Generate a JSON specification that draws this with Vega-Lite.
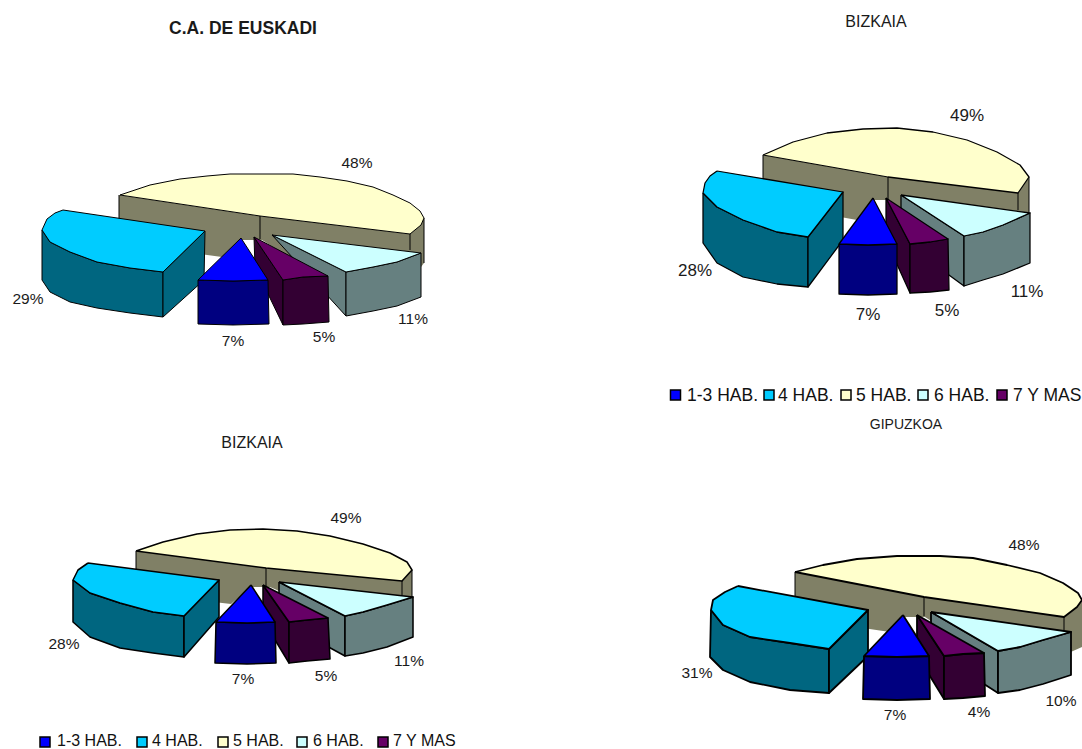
{"$schema":"https://vega.github.io/schema/vega-lite/v6.json","width":1082,"height":749,"padding":0,"autosize":{"type":"none"},"background":"white","view":{"stroke":null},
"datasets":{
"walls":[
{"panel":"CAE","x":119,"y":195},{"panel":"CAE","x":260,"y":216},{"panel":"CAE","x":410,"y":234},{"panel":"CAE","x":424,"y":218},{"panel":"CAE","x":424,"y":263},{"panel":"CAE","x":421,"y":267},{"panel":"CAE","x":410,"y":280},{"panel":"CAE","x":290,"y":258},{"panel":"CAE","x":262,"y":240},{"panel":"CAE","x":241,"y":240},{"panel":"CAE","x":222,"y":257},{"panel":"CAE","x":119,"y":243},
{"panel":"BIZ1","x":763,"y":155},{"panel":"BIZ1","x":888,"y":177},{"panel":"BIZ1","x":1018,"y":193},{"panel":"BIZ1","x":1029,"y":177},{"panel":"BIZ1","x":1029,"y":212},{"panel":"BIZ1","x":1018,"y":235},{"panel":"BIZ1","x":920,"y":225},{"panel":"BIZ1","x":890,"y":200},{"panel":"BIZ1","x":873,"y":200},{"panel":"BIZ1","x":857,"y":220},{"panel":"BIZ1","x":763,"y":203},
{"panel":"BIZ2","x":136,"y":551},{"panel":"BIZ2","x":266,"y":568},{"panel":"BIZ2","x":402,"y":581},{"panel":"BIZ2","x":412,"y":570},{"panel":"BIZ2","x":412,"y":597},{"panel":"BIZ2","x":402,"y":615},{"panel":"BIZ2","x":300,"y":600},{"panel":"BIZ2","x":270,"y":587},{"panel":"BIZ2","x":251,"y":587},{"panel":"BIZ2","x":231,"y":604},{"panel":"BIZ2","x":136,"y":593},
{"panel":"GIP","x":795,"y":572},{"panel":"GIP","x":924,"y":597},{"panel":"GIP","x":1064,"y":617},{"panel":"GIP","x":1082,"y":600},{"panel":"GIP","x":1082,"y":647},{"panel":"GIP","x":1064,"y":655},{"panel":"GIP","x":960,"y":640},{"panel":"GIP","x":925,"y":617},{"panel":"GIP","x":903,"y":617},{"panel":"GIP","x":890,"y":632},{"panel":"GIP","x":795,"y":618}
],
"edges":[
{"panel":"CAE","edge":"left","x":119,"y":243},{"panel":"CAE","edge":"left","x":119,"y":195},
{"panel":"CAE","edge":"seam","x":260,"y":216},{"panel":"CAE","edge":"seam","x":260,"y":239},
{"panel":"CAE","edge":"right","x":410,"y":234},{"panel":"CAE","edge":"right","x":410,"y":250},
{"panel":"CAE","edge":"rim","x":424,"y":218},{"panel":"CAE","edge":"rim","x":424,"y":263},
{"panel":"BIZ1","edge":"left","x":763,"y":203},{"panel":"BIZ1","edge":"left","x":763,"y":155},
{"panel":"BIZ1","edge":"seam","x":888,"y":177},{"panel":"BIZ1","edge":"seam","x":888,"y":199},
{"panel":"BIZ1","edge":"right","x":1018,"y":193},{"panel":"BIZ1","edge":"right","x":1018,"y":210},
{"panel":"BIZ1","edge":"rim","x":1029,"y":177},{"panel":"BIZ1","edge":"rim","x":1029,"y":212},
{"panel":"BIZ2","edge":"left","x":136,"y":593},{"panel":"BIZ2","edge":"left","x":136,"y":551},
{"panel":"BIZ2","edge":"seam","x":266,"y":568},{"panel":"BIZ2","edge":"seam","x":266,"y":586},
{"panel":"BIZ2","edge":"right","x":402,"y":581},{"panel":"BIZ2","edge":"right","x":402,"y":595},
{"panel":"BIZ2","edge":"rim","x":412,"y":570},{"panel":"BIZ2","edge":"rim","x":412,"y":597},
{"panel":"GIP","edge":"left","x":795,"y":618},{"panel":"GIP","edge":"left","x":795,"y":572},
{"panel":"GIP","edge":"seam","x":924,"y":597},{"panel":"GIP","edge":"seam","x":924,"y":616},
{"panel":"GIP","edge":"right","x":1064,"y":617},{"panel":"GIP","edge":"right","x":1064,"y":630}
],
"faces":[
{"panel":"CAE","face":"5 top","x":120,"y":195},{"panel":"CAE","face":"5 top","x":150,"y":185},{"panel":"CAE","face":"5 top","x":180,"y":179},{"panel":"CAE","face":"5 top","x":207,"y":176},{"panel":"CAE","face":"5 top","x":230,"y":174},{"panel":"CAE","face":"5 top","x":263,"y":174},{"panel":"CAE","face":"5 top","x":293,"y":174},{"panel":"CAE","face":"5 top","x":320,"y":177},{"panel":"CAE","face":"5 top","x":347,"y":181},{"panel":"CAE","face":"5 top","x":373,"y":187},{"panel":"CAE","face":"5 top","x":393,"y":195},{"panel":"CAE","face":"5 top","x":410,"y":203},{"panel":"CAE","face":"5 top","x":420,"y":211},{"panel":"CAE","face":"5 top","x":424,"y":218},{"panel":"CAE","face":"5 top","x":421,"y":225},{"panel":"CAE","face":"5 top","x":410,"y":234},{"panel":"CAE","face":"5 top","x":260,"y":216},{"panel":"CAE","face":"5 top","x":120,"y":195},
{"panel":"CAE","face":"4 side","x":42,"y":230},{"panel":"CAE","face":"4 side","x":50,"y":242},{"panel":"CAE","face":"4 side","x":70,"y":252},{"panel":"CAE","face":"4 side","x":97,"y":262},{"panel":"CAE","face":"4 side","x":130,"y":268},{"panel":"CAE","face":"4 side","x":163,"y":272},{"panel":"CAE","face":"4 side","x":163,"y":317},{"panel":"CAE","face":"4 side","x":130,"y":313},{"panel":"CAE","face":"4 side","x":97,"y":308},{"panel":"CAE","face":"4 side","x":70,"y":302},{"panel":"CAE","face":"4 side","x":50,"y":292},{"panel":"CAE","face":"4 side","x":42,"y":280},{"panel":"CAE","face":"4 side","x":42,"y":230},
{"panel":"CAE","face":"4 cut","x":163,"y":272},{"panel":"CAE","face":"4 cut","x":205,"y":231},{"panel":"CAE","face":"4 cut","x":204,"y":280},{"panel":"CAE","face":"4 cut","x":163,"y":317},{"panel":"CAE","face":"4 cut","x":163,"y":272},
{"panel":"CAE","face":"4 top","x":63,"y":210},{"panel":"CAE","face":"4 top","x":205,"y":231},{"panel":"CAE","face":"4 top","x":163,"y":272},{"panel":"CAE","face":"4 top","x":130,"y":268},{"panel":"CAE","face":"4 top","x":97,"y":262},{"panel":"CAE","face":"4 top","x":70,"y":252},{"panel":"CAE","face":"4 top","x":50,"y":242},{"panel":"CAE","face":"4 top","x":42,"y":230},{"panel":"CAE","face":"4 top","x":47,"y":219},{"panel":"CAE","face":"4 top","x":55,"y":213},{"panel":"CAE","face":"4 top","x":63,"y":210},
{"panel":"CAE","face":"6 cut","x":272,"y":235},{"panel":"CAE","face":"6 cut","x":346,"y":272},{"panel":"CAE","face":"6 cut","x":346,"y":316},{"panel":"CAE","face":"6 cut","x":272,"y":235},
{"panel":"CAE","face":"6 side","x":346,"y":272},{"panel":"CAE","face":"6 side","x":373,"y":267},{"panel":"CAE","face":"6 side","x":397,"y":262},{"panel":"CAE","face":"6 side","x":421,"y":253},{"panel":"CAE","face":"6 side","x":421,"y":297},{"panel":"CAE","face":"6 side","x":397,"y":306},{"panel":"CAE","face":"6 side","x":373,"y":311},{"panel":"CAE","face":"6 side","x":346,"y":316},{"panel":"CAE","face":"6 side","x":346,"y":272},
{"panel":"CAE","face":"6 top","x":272,"y":235},{"panel":"CAE","face":"6 top","x":421,"y":253},{"panel":"CAE","face":"6 top","x":397,"y":262},{"panel":"CAE","face":"6 top","x":373,"y":267},{"panel":"CAE","face":"6 top","x":346,"y":272},{"panel":"CAE","face":"6 top","x":272,"y":235},
{"panel":"CAE","face":"7 cut","x":254,"y":237},{"panel":"CAE","face":"7 cut","x":283,"y":280},{"panel":"CAE","face":"7 cut","x":283,"y":325},{"panel":"CAE","face":"7 cut","x":255,"y":267},{"panel":"CAE","face":"7 cut","x":254,"y":237},
{"panel":"CAE","face":"7 side","x":283,"y":280},{"panel":"CAE","face":"7 side","x":303,"y":277},{"panel":"CAE","face":"7 side","x":328,"y":276},{"panel":"CAE","face":"7 side","x":329,"y":322},{"panel":"CAE","face":"7 side","x":303,"y":324},{"panel":"CAE","face":"7 side","x":283,"y":325},{"panel":"CAE","face":"7 side","x":283,"y":280},
{"panel":"CAE","face":"7 top","x":254,"y":237},{"panel":"CAE","face":"7 top","x":328,"y":276},{"panel":"CAE","face":"7 top","x":303,"y":277},{"panel":"CAE","face":"7 top","x":283,"y":280},{"panel":"CAE","face":"7 top","x":254,"y":237},
{"panel":"CAE","face":"1-3 side","x":198,"y":280},{"panel":"CAE","face":"1-3 side","x":233,"y":281},{"panel":"CAE","face":"1-3 side","x":268,"y":280},{"panel":"CAE","face":"1-3 side","x":269,"y":324},{"panel":"CAE","face":"1-3 side","x":233,"y":325},{"panel":"CAE","face":"1-3 side","x":198,"y":324},{"panel":"CAE","face":"1-3 side","x":198,"y":280},
{"panel":"CAE","face":"1-3 top","x":241,"y":238},{"panel":"CAE","face":"1-3 top","x":268,"y":280},{"panel":"CAE","face":"1-3 top","x":233,"y":281},{"panel":"CAE","face":"1-3 top","x":198,"y":280},{"panel":"CAE","face":"1-3 top","x":241,"y":238},

{"panel":"BIZ1","face":"5 top","x":763,"y":155},{"panel":"BIZ1","face":"5 top","x":793,"y":142},{"panel":"BIZ1","face":"5 top","x":827,"y":133},{"panel":"BIZ1","face":"5 top","x":863,"y":129},{"panel":"BIZ1","face":"5 top","x":897,"y":128},{"panel":"BIZ1","face":"5 top","x":933,"y":132},{"panel":"BIZ1","face":"5 top","x":967,"y":140},{"panel":"BIZ1","face":"5 top","x":997,"y":152},{"panel":"BIZ1","face":"5 top","x":1020,"y":165},{"panel":"BIZ1","face":"5 top","x":1029,"y":177},{"panel":"BIZ1","face":"5 top","x":1018,"y":193},{"panel":"BIZ1","face":"5 top","x":888,"y":177},{"panel":"BIZ1","face":"5 top","x":763,"y":155},
{"panel":"BIZ1","face":"4 side","x":703,"y":193},{"panel":"BIZ1","face":"4 side","x":717,"y":207},{"panel":"BIZ1","face":"4 side","x":743,"y":220},{"panel":"BIZ1","face":"4 side","x":777,"y":232},{"panel":"BIZ1","face":"4 side","x":808,"y":237},{"panel":"BIZ1","face":"4 side","x":808,"y":287},{"panel":"BIZ1","face":"4 side","x":777,"y":284},{"panel":"BIZ1","face":"4 side","x":743,"y":277},{"panel":"BIZ1","face":"4 side","x":717,"y":263},{"panel":"BIZ1","face":"4 side","x":703,"y":243},{"panel":"BIZ1","face":"4 side","x":703,"y":193},
{"panel":"BIZ1","face":"4 cut","x":808,"y":237},{"panel":"BIZ1","face":"4 cut","x":843,"y":192},{"panel":"BIZ1","face":"4 cut","x":843,"y":240},{"panel":"BIZ1","face":"4 cut","x":808,"y":287},{"panel":"BIZ1","face":"4 cut","x":808,"y":237},
{"panel":"BIZ1","face":"4 top","x":717,"y":171},{"panel":"BIZ1","face":"4 top","x":843,"y":192},{"panel":"BIZ1","face":"4 top","x":808,"y":237},{"panel":"BIZ1","face":"4 top","x":777,"y":232},{"panel":"BIZ1","face":"4 top","x":743,"y":220},{"panel":"BIZ1","face":"4 top","x":717,"y":207},{"panel":"BIZ1","face":"4 top","x":703,"y":193},{"panel":"BIZ1","face":"4 top","x":705,"y":183},{"panel":"BIZ1","face":"4 top","x":710,"y":176},{"panel":"BIZ1","face":"4 top","x":717,"y":171},
{"panel":"BIZ1","face":"6 cut","x":901,"y":195},{"panel":"BIZ1","face":"6 cut","x":964,"y":236},{"panel":"BIZ1","face":"6 cut","x":964,"y":286},{"panel":"BIZ1","face":"6 cut","x":901,"y":240},{"panel":"BIZ1","face":"6 cut","x":901,"y":195},
{"panel":"BIZ1","face":"6 side","x":964,"y":236},{"panel":"BIZ1","face":"6 side","x":983,"y":232},{"panel":"BIZ1","face":"6 side","x":1003,"y":225},{"panel":"BIZ1","face":"6 side","x":1030,"y":213},{"panel":"BIZ1","face":"6 side","x":1030,"y":263},{"panel":"BIZ1","face":"6 side","x":1003,"y":274},{"panel":"BIZ1","face":"6 side","x":983,"y":280},{"panel":"BIZ1","face":"6 side","x":964,"y":286},{"panel":"BIZ1","face":"6 side","x":964,"y":236},
{"panel":"BIZ1","face":"6 top","x":901,"y":195},{"panel":"BIZ1","face":"6 top","x":1030,"y":213},{"panel":"BIZ1","face":"6 top","x":1003,"y":225},{"panel":"BIZ1","face":"6 top","x":983,"y":232},{"panel":"BIZ1","face":"6 top","x":964,"y":236},{"panel":"BIZ1","face":"6 top","x":901,"y":195},
{"panel":"BIZ1","face":"7 cut","x":886,"y":198},{"panel":"BIZ1","face":"7 cut","x":910,"y":244},{"panel":"BIZ1","face":"7 cut","x":910,"y":293},{"panel":"BIZ1","face":"7 cut","x":886,"y":240},{"panel":"BIZ1","face":"7 cut","x":886,"y":198},
{"panel":"BIZ1","face":"7 side","x":910,"y":244},{"panel":"BIZ1","face":"7 side","x":930,"y":242},{"panel":"BIZ1","face":"7 side","x":948,"y":239},{"panel":"BIZ1","face":"7 side","x":949,"y":290},{"panel":"BIZ1","face":"7 side","x":930,"y":292},{"panel":"BIZ1","face":"7 side","x":910,"y":293},{"panel":"BIZ1","face":"7 side","x":910,"y":244},
{"panel":"BIZ1","face":"7 top","x":886,"y":198},{"panel":"BIZ1","face":"7 top","x":948,"y":239},{"panel":"BIZ1","face":"7 top","x":930,"y":242},{"panel":"BIZ1","face":"7 top","x":910,"y":244},{"panel":"BIZ1","face":"7 top","x":886,"y":198},
{"panel":"BIZ1","face":"1-3 side","x":839,"y":244},{"panel":"BIZ1","face":"1-3 side","x":868,"y":245},{"panel":"BIZ1","face":"1-3 side","x":897,"y":244},{"panel":"BIZ1","face":"1-3 side","x":897,"y":294},{"panel":"BIZ1","face":"1-3 side","x":868,"y":295},{"panel":"BIZ1","face":"1-3 side","x":839,"y":294},{"panel":"BIZ1","face":"1-3 side","x":839,"y":244},
{"panel":"BIZ1","face":"1-3 top","x":873,"y":198},{"panel":"BIZ1","face":"1-3 top","x":897,"y":244},{"panel":"BIZ1","face":"1-3 top","x":868,"y":245},{"panel":"BIZ1","face":"1-3 top","x":839,"y":244},{"panel":"BIZ1","face":"1-3 top","x":873,"y":198},

{"panel":"BIZ2","face":"5 top","x":136,"y":551},{"panel":"BIZ2","face":"5 top","x":163,"y":542},{"panel":"BIZ2","face":"5 top","x":197,"y":534},{"panel":"BIZ2","face":"5 top","x":230,"y":530},{"panel":"BIZ2","face":"5 top","x":263,"y":529},{"panel":"BIZ2","face":"5 top","x":297,"y":531},{"panel":"BIZ2","face":"5 top","x":330,"y":536},{"panel":"BIZ2","face":"5 top","x":363,"y":544},{"panel":"BIZ2","face":"5 top","x":390,"y":553},{"panel":"BIZ2","face":"5 top","x":407,"y":562},{"panel":"BIZ2","face":"5 top","x":412,"y":570},{"panel":"BIZ2","face":"5 top","x":402,"y":581},{"panel":"BIZ2","face":"5 top","x":266,"y":568},{"panel":"BIZ2","face":"5 top","x":136,"y":551},
{"panel":"BIZ2","face":"4 side","x":73,"y":580},{"panel":"BIZ2","face":"4 side","x":90,"y":593},{"panel":"BIZ2","face":"4 side","x":120,"y":603},{"panel":"BIZ2","face":"4 side","x":153,"y":612},{"panel":"BIZ2","face":"4 side","x":184,"y":616},{"panel":"BIZ2","face":"4 side","x":184,"y":657},{"panel":"BIZ2","face":"4 side","x":153,"y":653},{"panel":"BIZ2","face":"4 side","x":120,"y":648},{"panel":"BIZ2","face":"4 side","x":90,"y":637},{"panel":"BIZ2","face":"4 side","x":73,"y":622},{"panel":"BIZ2","face":"4 side","x":73,"y":580},
{"panel":"BIZ2","face":"4 cut","x":184,"y":616},{"panel":"BIZ2","face":"4 cut","x":219,"y":580},{"panel":"BIZ2","face":"4 cut","x":219,"y":617},{"panel":"BIZ2","face":"4 cut","x":184,"y":657},{"panel":"BIZ2","face":"4 cut","x":184,"y":616},
{"panel":"BIZ2","face":"4 top","x":88,"y":563},{"panel":"BIZ2","face":"4 top","x":219,"y":580},{"panel":"BIZ2","face":"4 top","x":184,"y":616},{"panel":"BIZ2","face":"4 top","x":153,"y":612},{"panel":"BIZ2","face":"4 top","x":120,"y":603},{"panel":"BIZ2","face":"4 top","x":90,"y":593},{"panel":"BIZ2","face":"4 top","x":73,"y":580},{"panel":"BIZ2","face":"4 top","x":78,"y":570},{"panel":"BIZ2","face":"4 top","x":88,"y":563},
{"panel":"BIZ2","face":"6 cut","x":279,"y":582},{"panel":"BIZ2","face":"6 cut","x":345,"y":616},{"panel":"BIZ2","face":"6 cut","x":345,"y":656},{"panel":"BIZ2","face":"6 cut","x":279,"y":620},{"panel":"BIZ2","face":"6 cut","x":279,"y":582},
{"panel":"BIZ2","face":"6 side","x":345,"y":616},{"panel":"BIZ2","face":"6 side","x":363,"y":612},{"panel":"BIZ2","face":"6 side","x":387,"y":605},{"panel":"BIZ2","face":"6 side","x":413,"y":597},{"panel":"BIZ2","face":"6 side","x":413,"y":637},{"panel":"BIZ2","face":"6 side","x":387,"y":647},{"panel":"BIZ2","face":"6 side","x":363,"y":653},{"panel":"BIZ2","face":"6 side","x":345,"y":656},{"panel":"BIZ2","face":"6 side","x":345,"y":616},
{"panel":"BIZ2","face":"6 top","x":279,"y":582},{"panel":"BIZ2","face":"6 top","x":413,"y":597},{"panel":"BIZ2","face":"6 top","x":387,"y":605},{"panel":"BIZ2","face":"6 top","x":363,"y":612},{"panel":"BIZ2","face":"6 top","x":345,"y":616},{"panel":"BIZ2","face":"6 top","x":279,"y":582},
{"panel":"BIZ2","face":"7 cut","x":263,"y":585},{"panel":"BIZ2","face":"7 cut","x":289,"y":622},{"panel":"BIZ2","face":"7 cut","x":289,"y":663},{"panel":"BIZ2","face":"7 cut","x":263,"y":620},{"panel":"BIZ2","face":"7 cut","x":263,"y":585},
{"panel":"BIZ2","face":"7 side","x":289,"y":622},{"panel":"BIZ2","face":"7 side","x":307,"y":620},{"panel":"BIZ2","face":"7 side","x":328,"y":618},{"panel":"BIZ2","face":"7 side","x":330,"y":659},{"panel":"BIZ2","face":"7 side","x":307,"y":661},{"panel":"BIZ2","face":"7 side","x":289,"y":663},{"panel":"BIZ2","face":"7 side","x":289,"y":622},
{"panel":"BIZ2","face":"7 top","x":263,"y":585},{"panel":"BIZ2","face":"7 top","x":328,"y":618},{"panel":"BIZ2","face":"7 top","x":307,"y":620},{"panel":"BIZ2","face":"7 top","x":289,"y":622},{"panel":"BIZ2","face":"7 top","x":263,"y":585},
{"panel":"BIZ2","face":"1-3 side","x":216,"y":622},{"panel":"BIZ2","face":"1-3 side","x":247,"y":623},{"panel":"BIZ2","face":"1-3 side","x":275,"y":622},{"panel":"BIZ2","face":"1-3 side","x":276,"y":663},{"panel":"BIZ2","face":"1-3 side","x":247,"y":664},{"panel":"BIZ2","face":"1-3 side","x":215,"y":663},{"panel":"BIZ2","face":"1-3 side","x":216,"y":622},
{"panel":"BIZ2","face":"1-3 top","x":251,"y":585},{"panel":"BIZ2","face":"1-3 top","x":275,"y":622},{"panel":"BIZ2","face":"1-3 top","x":247,"y":623},{"panel":"BIZ2","face":"1-3 top","x":216,"y":622},{"panel":"BIZ2","face":"1-3 top","x":251,"y":585},

{"panel":"GIP","face":"5 top","x":795,"y":572},{"panel":"GIP","face":"5 top","x":823,"y":565},{"panel":"GIP","face":"5 top","x":857,"y":559},{"panel":"GIP","face":"5 top","x":897,"y":556},{"panel":"GIP","face":"5 top","x":940,"y":556},{"panel":"GIP","face":"5 top","x":973,"y":558},{"panel":"GIP","face":"5 top","x":1007,"y":565},{"panel":"GIP","face":"5 top","x":1040,"y":573},{"panel":"GIP","face":"5 top","x":1063,"y":583},{"panel":"GIP","face":"5 top","x":1078,"y":593},{"panel":"GIP","face":"5 top","x":1082,"y":600},{"panel":"GIP","face":"5 top","x":1077,"y":607},{"panel":"GIP","face":"5 top","x":1064,"y":617},{"panel":"GIP","face":"5 top","x":924,"y":597},{"panel":"GIP","face":"5 top","x":795,"y":572},
{"panel":"GIP","face":"4 side","x":711,"y":610},{"panel":"GIP","face":"4 side","x":723,"y":625},{"panel":"GIP","face":"4 side","x":750,"y":637},{"panel":"GIP","face":"4 side","x":790,"y":643},{"panel":"GIP","face":"4 side","x":829,"y":649},{"panel":"GIP","face":"4 side","x":829,"y":693},{"panel":"GIP","face":"4 side","x":790,"y":690},{"panel":"GIP","face":"4 side","x":750,"y":682},{"panel":"GIP","face":"4 side","x":723,"y":670},{"panel":"GIP","face":"4 side","x":710,"y":657},{"panel":"GIP","face":"4 side","x":711,"y":610},
{"panel":"GIP","face":"4 cut","x":829,"y":649},{"panel":"GIP","face":"4 cut","x":868,"y":610},{"panel":"GIP","face":"4 cut","x":868,"y":656},{"panel":"GIP","face":"4 cut","x":829,"y":693},{"panel":"GIP","face":"4 cut","x":829,"y":649},
{"panel":"GIP","face":"4 top","x":738,"y":586},{"panel":"GIP","face":"4 top","x":868,"y":610},{"panel":"GIP","face":"4 top","x":829,"y":649},{"panel":"GIP","face":"4 top","x":790,"y":643},{"panel":"GIP","face":"4 top","x":750,"y":637},{"panel":"GIP","face":"4 top","x":723,"y":625},{"panel":"GIP","face":"4 top","x":711,"y":610},{"panel":"GIP","face":"4 top","x":713,"y":600},{"panel":"GIP","face":"4 top","x":725,"y":592},{"panel":"GIP","face":"4 top","x":738,"y":586},
{"panel":"GIP","face":"6 cut","x":931,"y":612},{"panel":"GIP","face":"6 cut","x":998,"y":651},{"panel":"GIP","face":"6 cut","x":998,"y":693},{"panel":"GIP","face":"6 cut","x":931,"y":650},{"panel":"GIP","face":"6 cut","x":931,"y":612},
{"panel":"GIP","face":"6 side","x":998,"y":651},{"panel":"GIP","face":"6 side","x":1020,"y":647},{"panel":"GIP","face":"6 side","x":1043,"y":640},{"panel":"GIP","face":"6 side","x":1071,"y":632},{"panel":"GIP","face":"6 side","x":1071,"y":675},{"panel":"GIP","face":"6 side","x":1043,"y":684},{"panel":"GIP","face":"6 side","x":1020,"y":690},{"panel":"GIP","face":"6 side","x":998,"y":693},{"panel":"GIP","face":"6 side","x":998,"y":651},
{"panel":"GIP","face":"6 top","x":931,"y":612},{"panel":"GIP","face":"6 top","x":1071,"y":632},{"panel":"GIP","face":"6 top","x":1043,"y":640},{"panel":"GIP","face":"6 top","x":1020,"y":647},{"panel":"GIP","face":"6 top","x":998,"y":651},{"panel":"GIP","face":"6 top","x":931,"y":612},
{"panel":"GIP","face":"7 cut","x":917,"y":615},{"panel":"GIP","face":"7 cut","x":944,"y":656},{"panel":"GIP","face":"7 cut","x":944,"y":699},{"panel":"GIP","face":"7 cut","x":917,"y":655},{"panel":"GIP","face":"7 cut","x":917,"y":615},
{"panel":"GIP","face":"7 side","x":944,"y":656},{"panel":"GIP","face":"7 side","x":963,"y":654},{"panel":"GIP","face":"7 side","x":984,"y":653},{"panel":"GIP","face":"7 side","x":985,"y":696},{"panel":"GIP","face":"7 side","x":963,"y":698},{"panel":"GIP","face":"7 side","x":944,"y":699},{"panel":"GIP","face":"7 side","x":944,"y":656},
{"panel":"GIP","face":"7 top","x":917,"y":615},{"panel":"GIP","face":"7 top","x":984,"y":653},{"panel":"GIP","face":"7 top","x":963,"y":654},{"panel":"GIP","face":"7 top","x":944,"y":656},{"panel":"GIP","face":"7 top","x":917,"y":615},
{"panel":"GIP","face":"1-3 side","x":864,"y":656},{"panel":"GIP","face":"1-3 side","x":897,"y":657},{"panel":"GIP","face":"1-3 side","x":929,"y":656},{"panel":"GIP","face":"1-3 side","x":930,"y":699},{"panel":"GIP","face":"1-3 side","x":897,"y":700},{"panel":"GIP","face":"1-3 side","x":863,"y":699},{"panel":"GIP","face":"1-3 side","x":864,"y":656},
{"panel":"GIP","face":"1-3 top","x":903,"y":615},{"panel":"GIP","face":"1-3 top","x":929,"y":656},{"panel":"GIP","face":"1-3 top","x":897,"y":657},{"panel":"GIP","face":"1-3 top","x":864,"y":656},{"panel":"GIP","face":"1-3 top","x":903,"y":615}
],
"labels":[
{"panel":"CAE","text":"48%","x":357,"y":162},{"panel":"CAE","text":"29%","x":28,"y":298},{"panel":"CAE","text":"7%","x":233,"y":340},{"panel":"CAE","text":"5%","x":324,"y":336},{"panel":"CAE","text":"11%","x":413,"y":318},
{"panel":"BIZ1","text":"49%","x":967,"y":115},{"panel":"BIZ1","text":"28%","x":695,"y":270},{"panel":"BIZ1","text":"7%","x":868,"y":314},{"panel":"BIZ1","text":"5%","x":947,"y":310},{"panel":"BIZ1","text":"11%","x":1027,"y":291},
{"panel":"BIZ2","text":"49%","x":346,"y":517},{"panel":"BIZ2","text":"28%","x":64,"y":643},{"panel":"BIZ2","text":"7%","x":243,"y":678},{"panel":"BIZ2","text":"5%","x":326,"y":675},{"panel":"BIZ2","text":"11%","x":409,"y":660},
{"panel":"GIP","text":"48%","x":1024,"y":544},{"panel":"GIP","text":"31%","x":697,"y":672},{"panel":"GIP","text":"7%","x":895,"y":714},{"panel":"GIP","text":"4%","x":979,"y":711},{"panel":"GIP","text":"10%","x":1061,"y":700}
],
"titles":[
{"panel":"CAE","text":"C.A. DE EUSKADI","x":243,"y":28},
{"panel":"BIZ1","text":"BIZKAIA","x":876,"y":21},
{"panel":"BIZ2","text":"BIZKAIA","x":252,"y":442},
{"panel":"GIP","text":"GIPUZKOA","x":906,"y":424}
],
"legend":[
{"panel":"BIZ1","face":"1-3 top","text":"1-3 HAB.","x":675.5,"y":395,"tx":687},
{"panel":"BIZ1","face":"4 top","text":"4 HAB.","x":769,"y":395,"tx":778},
{"panel":"BIZ1","face":"5 top","text":"5 HAB.","x":846,"y":395,"tx":856},
{"panel":"BIZ1","face":"6 top","text":"6 HAB.","x":923,"y":395,"tx":934},
{"panel":"BIZ1","face":"7 top","text":"7 Y MAS","x":1002,"y":395,"tx":1013},
{"panel":"BIZ2","face":"1-3 top","text":"1-3 HAB.","x":45,"y":742,"tx":57},
{"panel":"BIZ2","face":"4 top","text":"4 HAB.","x":142,"y":742,"tx":152},
{"panel":"BIZ2","face":"5 top","text":"5 HAB.","x":223,"y":742,"tx":233},
{"panel":"BIZ2","face":"6 top","text":"6 HAB.","x":302,"y":742,"tx":313},
{"panel":"BIZ2","face":"7 top","text":"7 Y MAS","x":383,"y":742,"tx":393}
]
},
"encoding":{
"x":{"field":"x","type":"quantitative","axis":null,"scale":{"domain":[0,1082],"nice":false,"zero":false}},
"y":{"field":"y","type":"quantitative","axis":null,"scale":{"domain":[749,0],"nice":false,"zero":false}}
},
"layer":[
{"data":{"name":"walls"},"transform":[{"window":[{"op":"row_number","as":"seq"}]}],"mark":{"type":"line","fill":"#808066","stroke":null,"strokeWidth":0},"encoding":{"detail":{"field":"panel"},"order":{"field":"seq","type":"quantitative"}}},
{"data":{"name":"edges"},"transform":[{"window":[{"op":"row_number","as":"seq"}]}],"mark":{"type":"line","stroke":"#000000","strokeWidth":1},"encoding":{"detail":[{"field":"panel"},{"field":"edge"}],"order":{"field":"seq","type":"quantitative"}}},
{"data":{"name":"faces"},"transform":[{"window":[{"op":"row_number","as":"seq"}]}],"mark":{"type":"line","stroke":"#000000","strokeJoin":"round"},"encoding":{
"fill":{"field":"face","type":"nominal","legend":null,"scale":{"domain":["1-3 top","1-3 side","4 top","4 side","4 cut","5 top","6 top","6 side","6 cut","7 top","7 side","7 cut"],"range":["#0000ff","#000080","#00ccff","#006680","#006680","#ffffcc","#ccffff","#668080","#668080","#660066","#330033","#330033"]}},
"strokeWidth":{"field":"panel","type":"nominal","legend":null,"scale":{"domain":["CAE","BIZ1","BIZ2","GIP"],"range":[1,1.8,1.5,1]}},
"detail":{"field":"panel"},"order":{"field":"seq","type":"quantitative"}}},
{"data":{"name":"labels"},"transform":[{"filter":"datum.panel!='BIZ1'"}],"mark":{"type":"text","font":"Liberation Sans","fontSize":15.5,"dy":1,"fill":"#1a1a1a"},"encoding":{"text":{"field":"text"}}},
{"data":{"name":"labels"},"transform":[{"filter":"datum.panel=='BIZ1'"}],"mark":{"type":"text","font":"Liberation Sans","fontSize":17,"dy":1,"fill":"#1a1a1a"},"encoding":{"text":{"field":"text"}}},
{"data":{"name":"titles"},"transform":[{"filter":"datum.panel=='CAE'"}],"mark":{"type":"text","font":"Liberation Sans","fontSize":17.5,"dy":1,"fontWeight":"bold","fill":"#1a1a1a"},"encoding":{"text":{"field":"text"}}},
{"data":{"name":"titles"},"transform":[{"filter":"datum.panel=='BIZ1'"}],"mark":{"type":"text","font":"Liberation Sans","fontSize":16,"dy":1,"fill":"#1a1a1a"},"encoding":{"text":{"field":"text"}}},
{"data":{"name":"titles"},"transform":[{"filter":"datum.panel=='BIZ2'"}],"mark":{"type":"text","font":"Liberation Sans","fontSize":16,"dy":1,"fill":"#1a1a1a"},"encoding":{"text":{"field":"text"}}},
{"data":{"name":"titles"},"transform":[{"filter":"datum.panel=='GIP'"}],"mark":{"type":"text","font":"Liberation Sans","fontSize":14,"dy":1,"fill":"#1a1a1a"},"encoding":{"text":{"field":"text"}}},
{"data":{"name":"legend"},"mark":{"type":"point","shape":"square","filled":true,"size":100,"stroke":"#000000","strokeWidth":1.5,"opacity":1},"encoding":{"fill":{"field":"face","type":"nominal","legend":null}}},
{"data":{"name":"legend"},"transform":[{"filter":"datum.panel=='BIZ1'"}],"mark":{"type":"text","font":"Liberation Sans","fontSize":17.5,"dy":1,"align":"left","fill":"#111111"},"encoding":{"x":{"field":"tx","type":"quantitative"},"text":{"field":"text"}}},
{"data":{"name":"legend"},"transform":[{"filter":"datum.panel=='BIZ2'"}],"mark":{"type":"text","font":"Liberation Sans","fontSize":16,"dy":-1,"align":"left","fill":"#111111"},"encoding":{"x":{"field":"tx","type":"quantitative"},"text":{"field":"text"}}}
]}
